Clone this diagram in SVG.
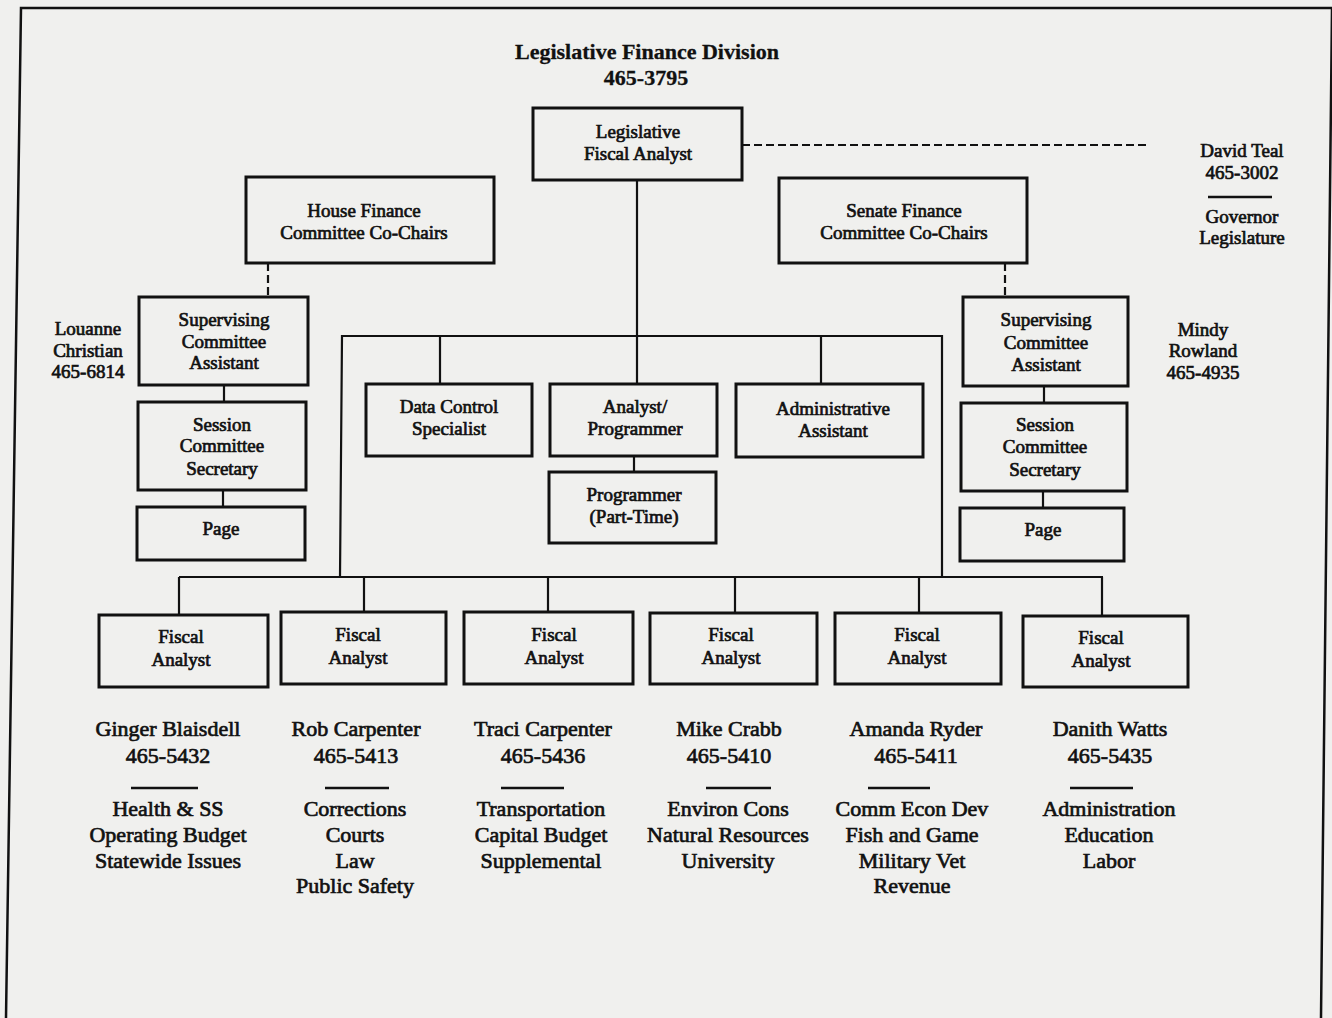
<svg xmlns="http://www.w3.org/2000/svg" width="1332" height="1018" viewBox="0 0 1332 1018">
<style>
.bg{fill:#f0f0ee}
.frame{fill:none;stroke:#111;stroke-width:2.5}
.box{fill:none;stroke:#111;stroke-width:3}
.ln{fill:none;stroke:#111;stroke-width:2.2}
.dash{fill:none;stroke:#111;stroke-width:2.2;stroke-dasharray:8 4}
.rule{stroke:#111;stroke-width:2.5}
text{font-family:"Liberation Serif","Times New Roman",serif;fill:#111;text-anchor:middle;stroke:#111;stroke-width:0.7}
.t19{font-size:19px}
.t22{font-size:22px}
.title{font-size:22px;font-weight:bold;stroke-width:0.3}
</style>
<rect class="bg" x="0" y="0" width="1332" height="1018"/>
<path class="frame" d="M6,1018 L21,8 L1332,8 M1332,8 L1321,1018"/>

<g id="title">
<text class="title" x="647" y="59">Legislative Finance Division</text>
<text class="title" x="646" y="85">465-3795</text>
</g>

<g id="connectors">
<line class="ln" x1="637" y1="180" x2="637" y2="384"/>
<line class="dash" x1="742" y1="145" x2="1150" y2="145"/>
<line class="dash" x1="268" y1="263" x2="268" y2="297"/>
<line class="dash" x1="1005" y1="263" x2="1005" y2="297"/>
<line class="ln" x1="224" y1="385" x2="224" y2="402"/>
<line class="ln" x1="223" y1="490" x2="223" y2="507"/>
<line class="ln" x1="1044" y1="386" x2="1044" y2="403"/>
<line class="ln" x1="1043" y1="491" x2="1043" y2="508"/>
<path class="ln" d="M340,577 L342,336 L942,336 L942,577"/>
<line class="ln" x1="440" y1="336" x2="440" y2="384"/>
<line class="ln" x1="821" y1="336" x2="821" y2="384"/>
<line class="ln" x1="634" y1="456" x2="634" y2="472"/>
<line class="ln" x1="179" y1="577" x2="1103" y2="577"/>
<line class="ln" x1="179" y1="577" x2="179" y2="615"/>
<line class="ln" x1="364" y1="577" x2="364" y2="612"/>
<line class="ln" x1="548" y1="577" x2="548" y2="612"/>
<line class="ln" x1="735" y1="577" x2="735" y2="613"/>
<line class="ln" x1="919" y1="577" x2="919" y2="613"/>
<line class="ln" x1="1102" y1="577" x2="1102" y2="616"/>
</g>

<g id="lfa">
<rect class="box" x="533" y="108" width="209" height="72"/>
<text class="t19"><tspan x="638" y="138">Legislative</tspan><tspan x="638" y="160">Fiscal Analyst</tspan></text>
</g>
<g id="house">
<rect class="box" x="246" y="177" width="248" height="86"/>
<text class="t19"><tspan x="364" y="217">House Finance</tspan><tspan x="364" y="239">Committee Co-Chairs</tspan></text>
</g>
<g id="senate">
<rect class="box" x="779" y="178" width="248" height="85"/>
<text class="t19"><tspan x="904" y="217">Senate Finance</tspan><tspan x="904" y="239">Committee Co-Chairs</tspan></text>
</g>
<g id="david-teal">
<text class="t19"><tspan x="1242" y="157">David Teal</tspan><tspan x="1242" y="179">465-3002</tspan></text>
<line class="rule" x1="1208" y1="197" x2="1272" y2="197"/>
<text class="t19"><tspan x="1242" y="223">Governor</tspan><tspan x="1242" y="244">Legislature</tspan></text>
</g>

<g id="house-sup">
<rect class="box" x="139" y="297" width="169" height="88"/>
<text class="t19"><tspan x="224" y="326">Supervising</tspan><tspan x="224" y="348">Committee</tspan><tspan x="224" y="369">Assistant</tspan></text>
</g>
<g id="louanne">
<text class="t19"><tspan x="88" y="335">Louanne</tspan><tspan x="88" y="357">Christian</tspan><tspan x="88" y="378">465-6814</tspan></text>
</g>
<g id="house-sess">
<rect class="box" x="138" y="402" width="168" height="88"/>
<text class="t19"><tspan x="222" y="431">Session</tspan><tspan x="222" y="452">Committee</tspan><tspan x="222" y="475">Secretary</tspan></text>
</g>
<g id="house-page">
<rect class="box" x="137" y="507" width="168" height="53"/>
<text class="t19" x="221" y="535">Page</text>
</g>

<g id="senate-sup">
<rect class="box" x="963" y="297" width="165" height="89"/>
<text class="t19"><tspan x="1046" y="326">Supervising</tspan><tspan x="1046" y="349">Committee</tspan><tspan x="1046" y="371">Assistant</tspan></text>
</g>
<g id="mindy">
<text class="t19"><tspan x="1203" y="336">Mindy</tspan><tspan x="1203" y="357">Rowland</tspan><tspan x="1203" y="379">465-4935</tspan></text>
</g>
<g id="senate-sess">
<rect class="box" x="961" y="403" width="166" height="88"/>
<text class="t19"><tspan x="1045" y="431">Session</tspan><tspan x="1045" y="453">Committee</tspan><tspan x="1045" y="476">Secretary</tspan></text>
</g>
<g id="senate-page">
<rect class="box" x="960" y="508" width="164" height="53"/>
<text class="t19" x="1043" y="536">Page</text>
</g>

<g id="data-control">
<rect class="box" x="366" y="384" width="166" height="72"/>
<text class="t19"><tspan x="449" y="413">Data Control</tspan><tspan x="449" y="435">Specialist</tspan></text>
</g>
<g id="analyst-programmer">
<rect class="box" x="550" y="384" width="167" height="72"/>
<text class="t19"><tspan x="635" y="413">Analyst/</tspan><tspan x="635" y="435">Programmer</tspan></text>
</g>
<g id="admin-assistant">
<rect class="box" x="736" y="384" width="187" height="73"/>
<text class="t19"><tspan x="833" y="415">Administrative</tspan><tspan x="833" y="437">Assistant</tspan></text>
</g>
<g id="programmer-pt">
<rect class="box" x="549" y="472" width="167" height="71"/>
<text class="t19"><tspan x="634" y="501">Programmer</tspan><tspan x="634" y="523">(Part-Time)</tspan></text>
</g>

<g id="fa1">
<rect class="box" x="99" y="615" width="169" height="72"/>
<text class="t19"><tspan x="181" y="643">Fiscal</tspan><tspan x="181" y="666">Analyst</tspan></text>
</g>
<g id="fa2">
<rect class="box" x="281" y="612" width="165" height="72"/>
<text class="t19"><tspan x="358" y="641">Fiscal</tspan><tspan x="358" y="664">Analyst</tspan></text>
</g>
<g id="fa3">
<rect class="box" x="464" y="612" width="169" height="72"/>
<text class="t19"><tspan x="554" y="641">Fiscal</tspan><tspan x="554" y="664">Analyst</tspan></text>
</g>
<g id="fa4">
<rect class="box" x="650" y="613" width="167" height="71"/>
<text class="t19"><tspan x="731" y="641">Fiscal</tspan><tspan x="731" y="664">Analyst</tspan></text>
</g>
<g id="fa5">
<rect class="box" x="835" y="613" width="166" height="71"/>
<text class="t19"><tspan x="917" y="641">Fiscal</tspan><tspan x="917" y="664">Analyst</tspan></text>
</g>
<g id="fa6">
<rect class="box" x="1023" y="616" width="165" height="71"/>
<text class="t19"><tspan x="1101" y="644">Fiscal</tspan><tspan x="1101" y="667">Analyst</tspan></text>
</g>

<g id="staff1">
<text class="t22"><tspan x="168" y="736">Ginger Blaisdell</tspan><tspan x="168" y="763">465-5432</tspan></text>
<line class="rule" x1="131" y1="788" x2="198" y2="788"/>
<text class="t22"><tspan x="168" y="816">Health &amp; SS</tspan><tspan x="168" y="842">Operating Budget</tspan><tspan x="168" y="868">Statewide Issues</tspan></text>
</g>
<g id="staff2">
<text class="t22"><tspan x="356" y="736">Rob Carpenter</tspan><tspan x="356" y="763">465-5413</tspan></text>
<line class="rule" x1="325" y1="788" x2="389" y2="788"/>
<text class="t22"><tspan x="355" y="816">Corrections</tspan><tspan x="355" y="842">Courts</tspan><tspan x="355" y="868">Law</tspan><tspan x="355" y="893">Public Safety</tspan></text>
</g>
<g id="staff3">
<text class="t22"><tspan x="543" y="736">Traci Carpenter</tspan><tspan x="543" y="763">465-5436</tspan></text>
<line class="rule" x1="501" y1="788" x2="564" y2="788"/>
<text class="t22"><tspan x="541" y="816">Transportation</tspan><tspan x="541" y="842">Capital Budget</tspan><tspan x="541" y="868">Supplemental</tspan></text>
</g>
<g id="staff4">
<text class="t22"><tspan x="729" y="736">Mike Crabb</tspan><tspan x="729" y="763">465-5410</tspan></text>
<line class="rule" x1="706" y1="788" x2="771" y2="788"/>
<text class="t22"><tspan x="728" y="816">Environ Cons</tspan><tspan x="728" y="842">Natural Resources</tspan><tspan x="728" y="868">University</tspan></text>
</g>
<g id="staff5">
<text class="t22"><tspan x="916" y="736">Amanda Ryder</tspan><tspan x="916" y="763">465-5411</tspan></text>
<line class="rule" x1="868" y1="788" x2="930" y2="788"/>
<text class="t22"><tspan x="912" y="816">Comm Econ Dev</tspan><tspan x="912" y="842">Fish and Game</tspan><tspan x="912" y="868">Military Vet</tspan><tspan x="912" y="893">Revenue</tspan></text>
</g>
<g id="staff6">
<text class="t22"><tspan x="1110" y="736">Danith Watts</tspan><tspan x="1110" y="763">465-5435</tspan></text>
<line class="rule" x1="1070" y1="788" x2="1133" y2="788"/>
<text class="t22"><tspan x="1109" y="816">Administration</tspan><tspan x="1109" y="842">Education</tspan><tspan x="1109" y="868">Labor</tspan></text>
</g>
</svg>
